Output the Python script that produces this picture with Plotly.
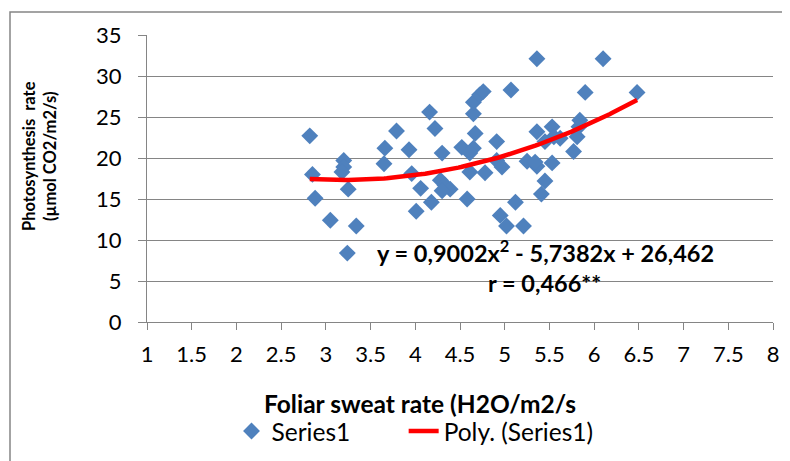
import numpy as np
import plotly.graph_objects as go

# Foliar sweat rate (x) and photosynthesis rate (y)
sweat_rate = [2.82, 2.85, 2.88, 3.05, 3.20, 3.20, 3.18, 3.25, 3.34, 3.24,
              3.66, 3.65, 3.79, 3.93, 3.96, 4.06, 4.01, 4.16, 4.22, 4.30,
              4.18, 4.28, 4.33, 4.39, 4.30, 4.52, 4.58, 4.61, 4.65, 4.67,
              4.65, 4.65, 4.72, 4.76, 4.61, 4.78, 4.91, 4.91, 4.97, 4.95,
              5.02, 5.12, 5.21, 5.07, 5.25, 5.36, 5.36, 5.36, 6.10, 5.90,
              6.48, 5.53, 5.55, 5.45, 5.62, 5.84, 5.83, 5.81, 5.77, 5.34,
              5.53, 5.45, 5.41]
photo_rate = [22.7, 18.0, 15.1, 12.4, 19.7, 18.9, 18.3, 16.2, 11.7, 8.4,
              21.2, 19.3, 23.3, 21.0, 18.1, 16.3, 13.5, 25.6, 23.6, 20.6,
              14.6, 17.3, 16.7, 16.2, 16.0, 21.3, 15.0, 18.3, 21.2, 23.0,
              25.4, 26.8, 27.7, 28.1, 20.6, 18.2, 22.0, 19.7, 18.9, 13.0,
              11.7, 14.6, 11.7, 28.3, 19.6, 23.2, 19.0, 32.1, 32.1, 28.0,
              28.0, 23.8, 22.6, 22.0, 22.4, 24.6, 23.8, 22.6, 20.8, 19.5,
              19.4, 17.2, 15.6]

# Polynomial trendline coefficients shown on the chart
poly_coef = [0.9002, -5.7382, 26.462]
equation_text = "y = 0,9002x<sup>2</sup> - 5,7382x + 26,462"
r_text = "r = 0,466**"

x_ticks = [1, 1.5, 2, 2.5, 3, 3.5, 4, 4.5, 5, 5.5, 6, 6.5, 7, 7.5, 8]
y_ticks = [0, 5, 10, 15, 20, 25, 30, 35]

FONT = "Lato"
GRID = "#858585"

tx = np.linspace(min(sweat_rate), max(sweat_rate), 120)
ty = np.polyval(poly_coef, tx)

fig = go.Figure()
fig.add_trace(go.Scatter(
    x=sweat_rate, y=photo_rate, mode="markers", name="Series1",
    marker=dict(symbol="diamond", size=13, color="#4F81BD", line=dict(width=0)),
    legend="legend",
))
fig.add_trace(go.Scatter(
    x=tx, y=ty, mode="lines", name="Poly. (Series1)",
    line=dict(color="#FF0000", width=4.5),
    legend="legend2",
))

legend_common = dict(orientation="h", xanchor="left", y=-0.38, yanchor="middle",
                     font=dict(size=24.5, family=FONT, color="black"),
                     bgcolor="rgba(0,0,0,0)")

# page body has an 8px margin: figure sized so the whole page fits the 790x461 window
fig.update_layout(
    width=782, height=453,
    margin=dict(l=139, r=17, t=27, b=139, autoexpand=False),
    paper_bgcolor="white", plot_bgcolor="white",
    font=dict(family=FONT, size=22, color="black"),
    showlegend=True,
    legend=dict(x=0.135, **legend_common),
    legend2=dict(x=0.410, **legend_common),
    xaxis=dict(range=[1, 8], tickvals=x_ticks, ticktext=[f"{v:g}" for v in x_ticks],
               showgrid=False, zeroline=False, showline=True, linecolor=GRID, linewidth=1.3,
               ticks="outside", ticklen=7, tickcolor=GRID, tickwidth=1.3,
               ticklabelstandoff=5, tickfont=dict(size=22, family=FONT, color="black")),
    yaxis=dict(range=[0, 35], tickvals=y_ticks,
               showgrid=True, gridcolor=GRID, gridwidth=1.3, zeroline=False,
               showline=True, linecolor=GRID, linewidth=1.3,
               ticks="outside", ticklen=8, tickcolor=GRID, tickwidth=1.3,
               ticklabelstandoff=12, tickfont=dict(size=22, family=FONT, color="black")),
)

# chart border (top/left visible)
fig.add_shape(type="rect", xref="paper", yref="paper",
              x0=(10 - 147) / 626, x1=(800 - 147) / 626,
              y0=(322 - 475) / 287, y1=(322 - 12) / 287,
              line=dict(color=GRID, width=1.5), layer="below")

# axis titles
fig.add_annotation(text="<b>Foliar sweat rate (H2O/m2/s</b>", xref="paper", yref="paper",
                   x=(420 - 147) / 626, y=(322 - 404) / 287, xanchor="center", yanchor="middle",
                   showarrow=False, font=dict(size=24.5, family=FONT, color="black"))
fig.add_annotation(text="<b>Photosynthesis  rate<br>(µmol CO2/m2/s)</b>", xref="paper", yref="paper",
                   x=(39 - 147) / 626, y=(322 - 156) / 287, xanchor="center", yanchor="middle",
                   textangle=-90, showarrow=False,
                   font=dict(size=16.5, family=FONT, color="black"))

# equation labels
fig.add_annotation(text="<b>" + equation_text + "</b>", x=5.46, y=8.6, xref="x", yref="y",
                   showarrow=False, xanchor="center", yanchor="middle",
                   font=dict(size=23.5, family=FONT, color="black"))
fig.add_annotation(text="<b>" + r_text + "</b>", x=5.45, y=4.8, xref="x", yref="y",
                   showarrow=False, xanchor="center", yanchor="middle",
                   font=dict(size=23.5, family=FONT, color="black"))

fig.write_html("out.html")
